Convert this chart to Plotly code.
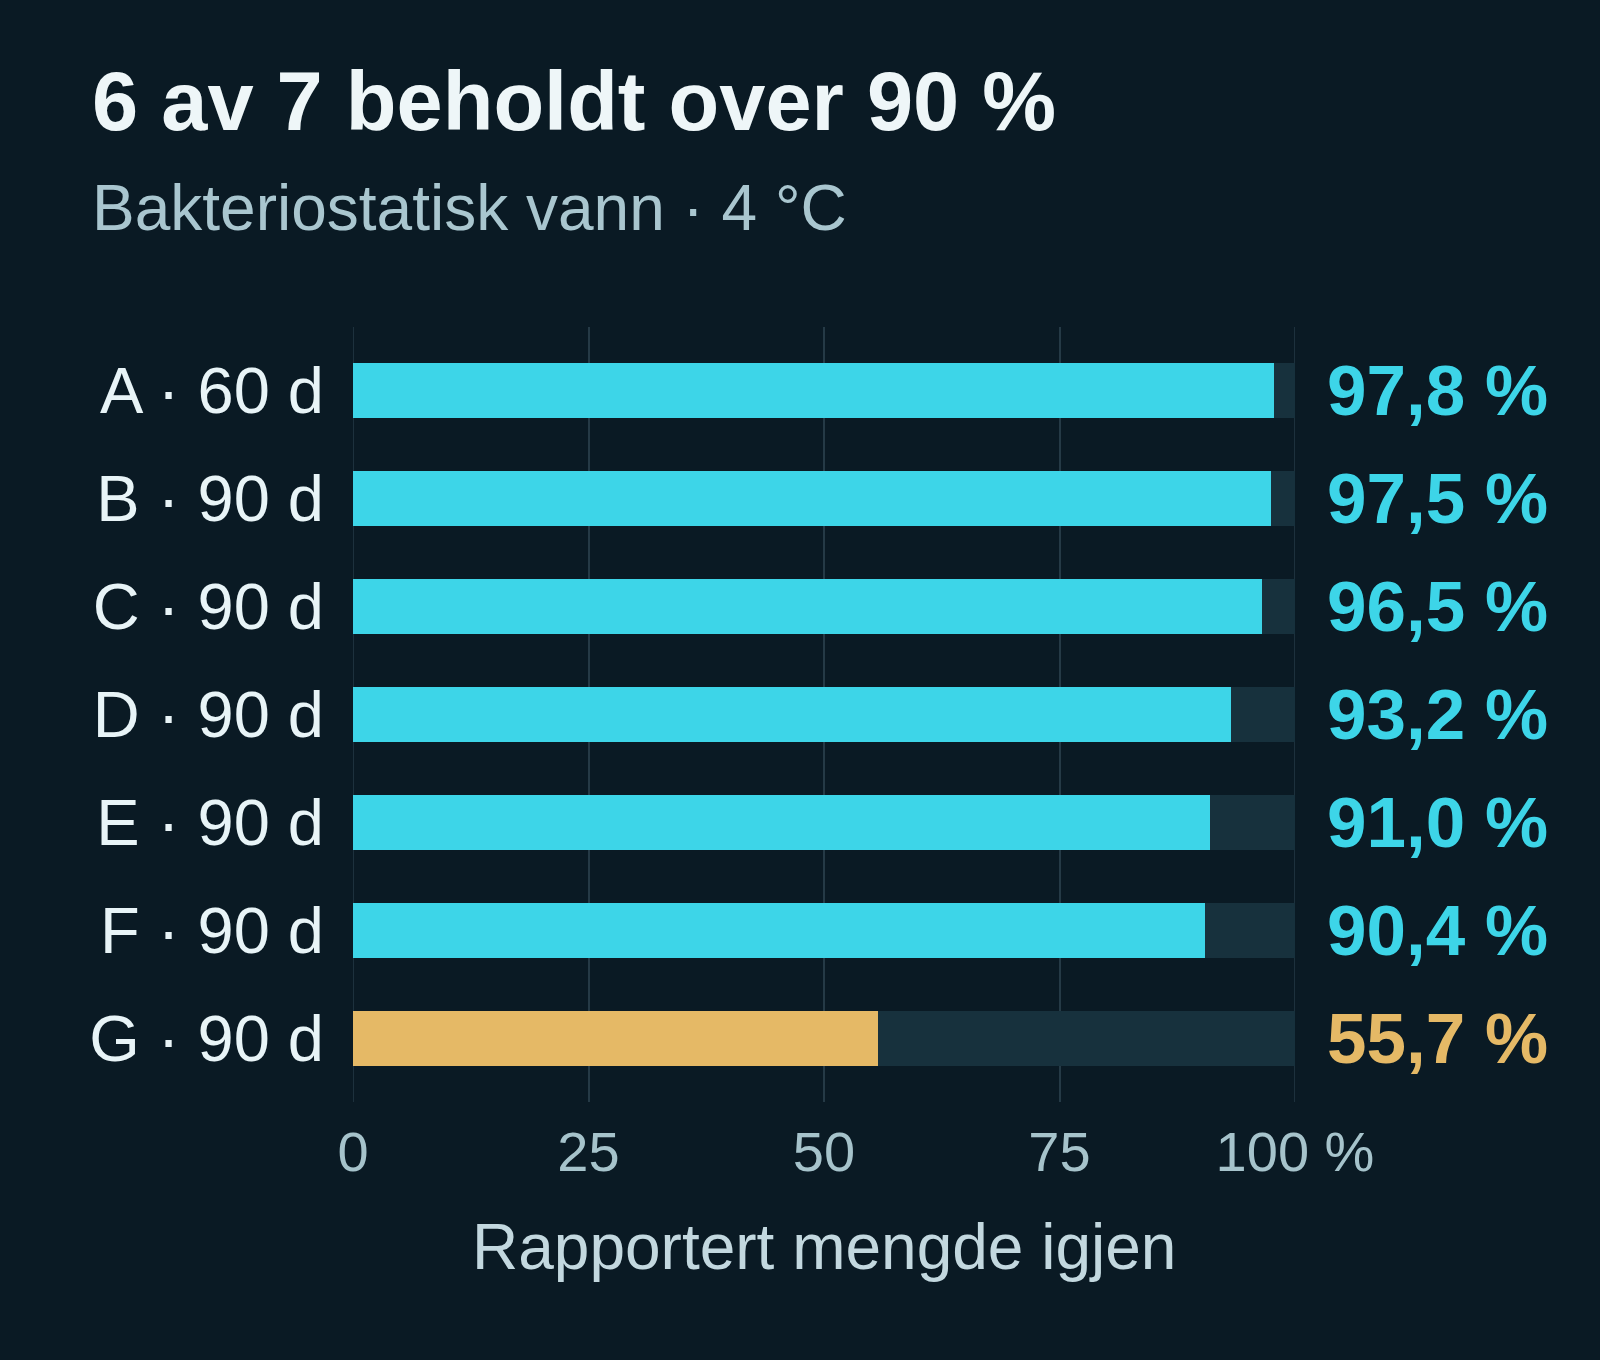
import plotly.graph_objects as go

# ---- data ----
categories = ["A · 60 d", "B · 90 d", "C · 90 d", "D · 90 d", "E · 90 d", "F · 90 d", "G · 90 d"]
values = [97.8, 97.5, 96.5, 93.2, 91.0, 90.4, 55.7]
track_max = [100, 100, 100, 100, 100, 100, 100]
threshold = 90
x_tickvals = [0, 25, 50, 75, 100]
x_ticktext = ["0", "25", "50", "75", "100 %"]

title_text = "6 av 7 beholdt over 90 %"
subtitle_text = "Bakteriostatisk vann · 4 °C"
xaxis_title = "Rapportert mengde igjen"

# ---- style ----
BG = "#0a1a24"
CYAN = "#3dd5e8"
GOLD = "#e5b966"
TRACK = "#17313d"
GRID = "#253a46"
FONT = "Liberation Sans, Arial, sans-serif"

bar_colors = [CYAN if v >= threshold else GOLD for v in values]

fig = go.Figure()
fig.add_trace(go.Bar(
    y=categories, x=track_max, orientation="h",
    marker=dict(color=TRACK, line=dict(width=0)),
    width=0.51, hoverinfo="skip", showlegend=False,
))
fig.add_trace(go.Bar(
    y=categories, x=values, orientation="h",
    marker=dict(color=bar_colors, line=dict(width=0)),
    width=0.51, showlegend=False,
))

annotations = []
for cat, v, c in zip(categories, values, bar_colors):
    annotations.append(dict(
        x=1, xref="paper", y=cat, yref="y",
        text=f"{v:.1f}".replace(".", ",") + " %",
        showarrow=False, xanchor="left", yanchor="middle", xshift=30,
        font=dict(family=FONT, size=71, color=c, weight="bold"),
    ))

L, R, T, B = 353, 305, 327, 258
W, H = 1600, 1360
pw, ph = W - L - R, H - T - B

def px_x(px):
    return (px - L) / pw

def px_y(py):
    return (H - B - py) / ph

annotations.append(dict(
    x=px_x(90), xref="paper", y=px_y(101), yref="paper",
    text=f"<b>{title_text}</b>", showarrow=False, xanchor="left", yanchor="middle",
    font=dict(family=FONT, size=83, color="#eef6f8"),
))
annotations.append(dict(
    x=px_x(90), xref="paper", y=px_y(208), yref="paper",
    text=subtitle_text, showarrow=False, xanchor="left", yanchor="middle",
    font=dict(family=FONT, size=64, color="#a9c6cf"),
))
annotations.append(dict(
    x=0.5, xref="paper", y=px_y(1247), yref="paper",
    text=xaxis_title, showarrow=False, xanchor="center", yanchor="middle",
    font=dict(family=FONT, size=64, color="#c3d8df"),
))

# gridlines at the range ends (plotly drops these at the edges)
shapes = [
    dict(type="line", xref="x", yref="paper", x0=v, x1=v, y0=0, y1=1,
         line=dict(color=GRID, width=1.5), layer="below")
    for v in (x_tickvals[0], x_tickvals[-1])
]

fig.update_layout(
    width=W, height=H,
    margin=dict(l=L, r=R, t=T, b=B, pad=0),
    paper_bgcolor=BG, plot_bgcolor=BG,
    barmode="overlay",
    bargap=0,
    annotations=annotations,
    shapes=shapes,
    xaxis=dict(
        range=[0, 100], tickvals=x_tickvals, ticktext=x_ticktext,
        showgrid=True, gridcolor=GRID, gridwidth=1.5,
        zeroline=False, showline=False, ticks="",
        tickfont=dict(family=FONT, size=56, color="#a6c3cb"),
        ticklabelstandoff=12,
        fixedrange=True,
    ),
    yaxis=dict(
        categoryorder="array", categoryarray=categories,
        range=[6.59, -0.59],
        showgrid=False, zeroline=False, showline=False, ticks="",
        tickfont=dict(family=FONT, size=65, color="#e8f4f7"),
        ticklabelstandoff=28,
        fixedrange=True,
    ),
    showlegend=False,
)

fig.write_html(
    "out.html",
    config={"displayModeBar": False},
    post_script="document.body.style.margin='0';document.body.style.background='%s';" % BG,
)
